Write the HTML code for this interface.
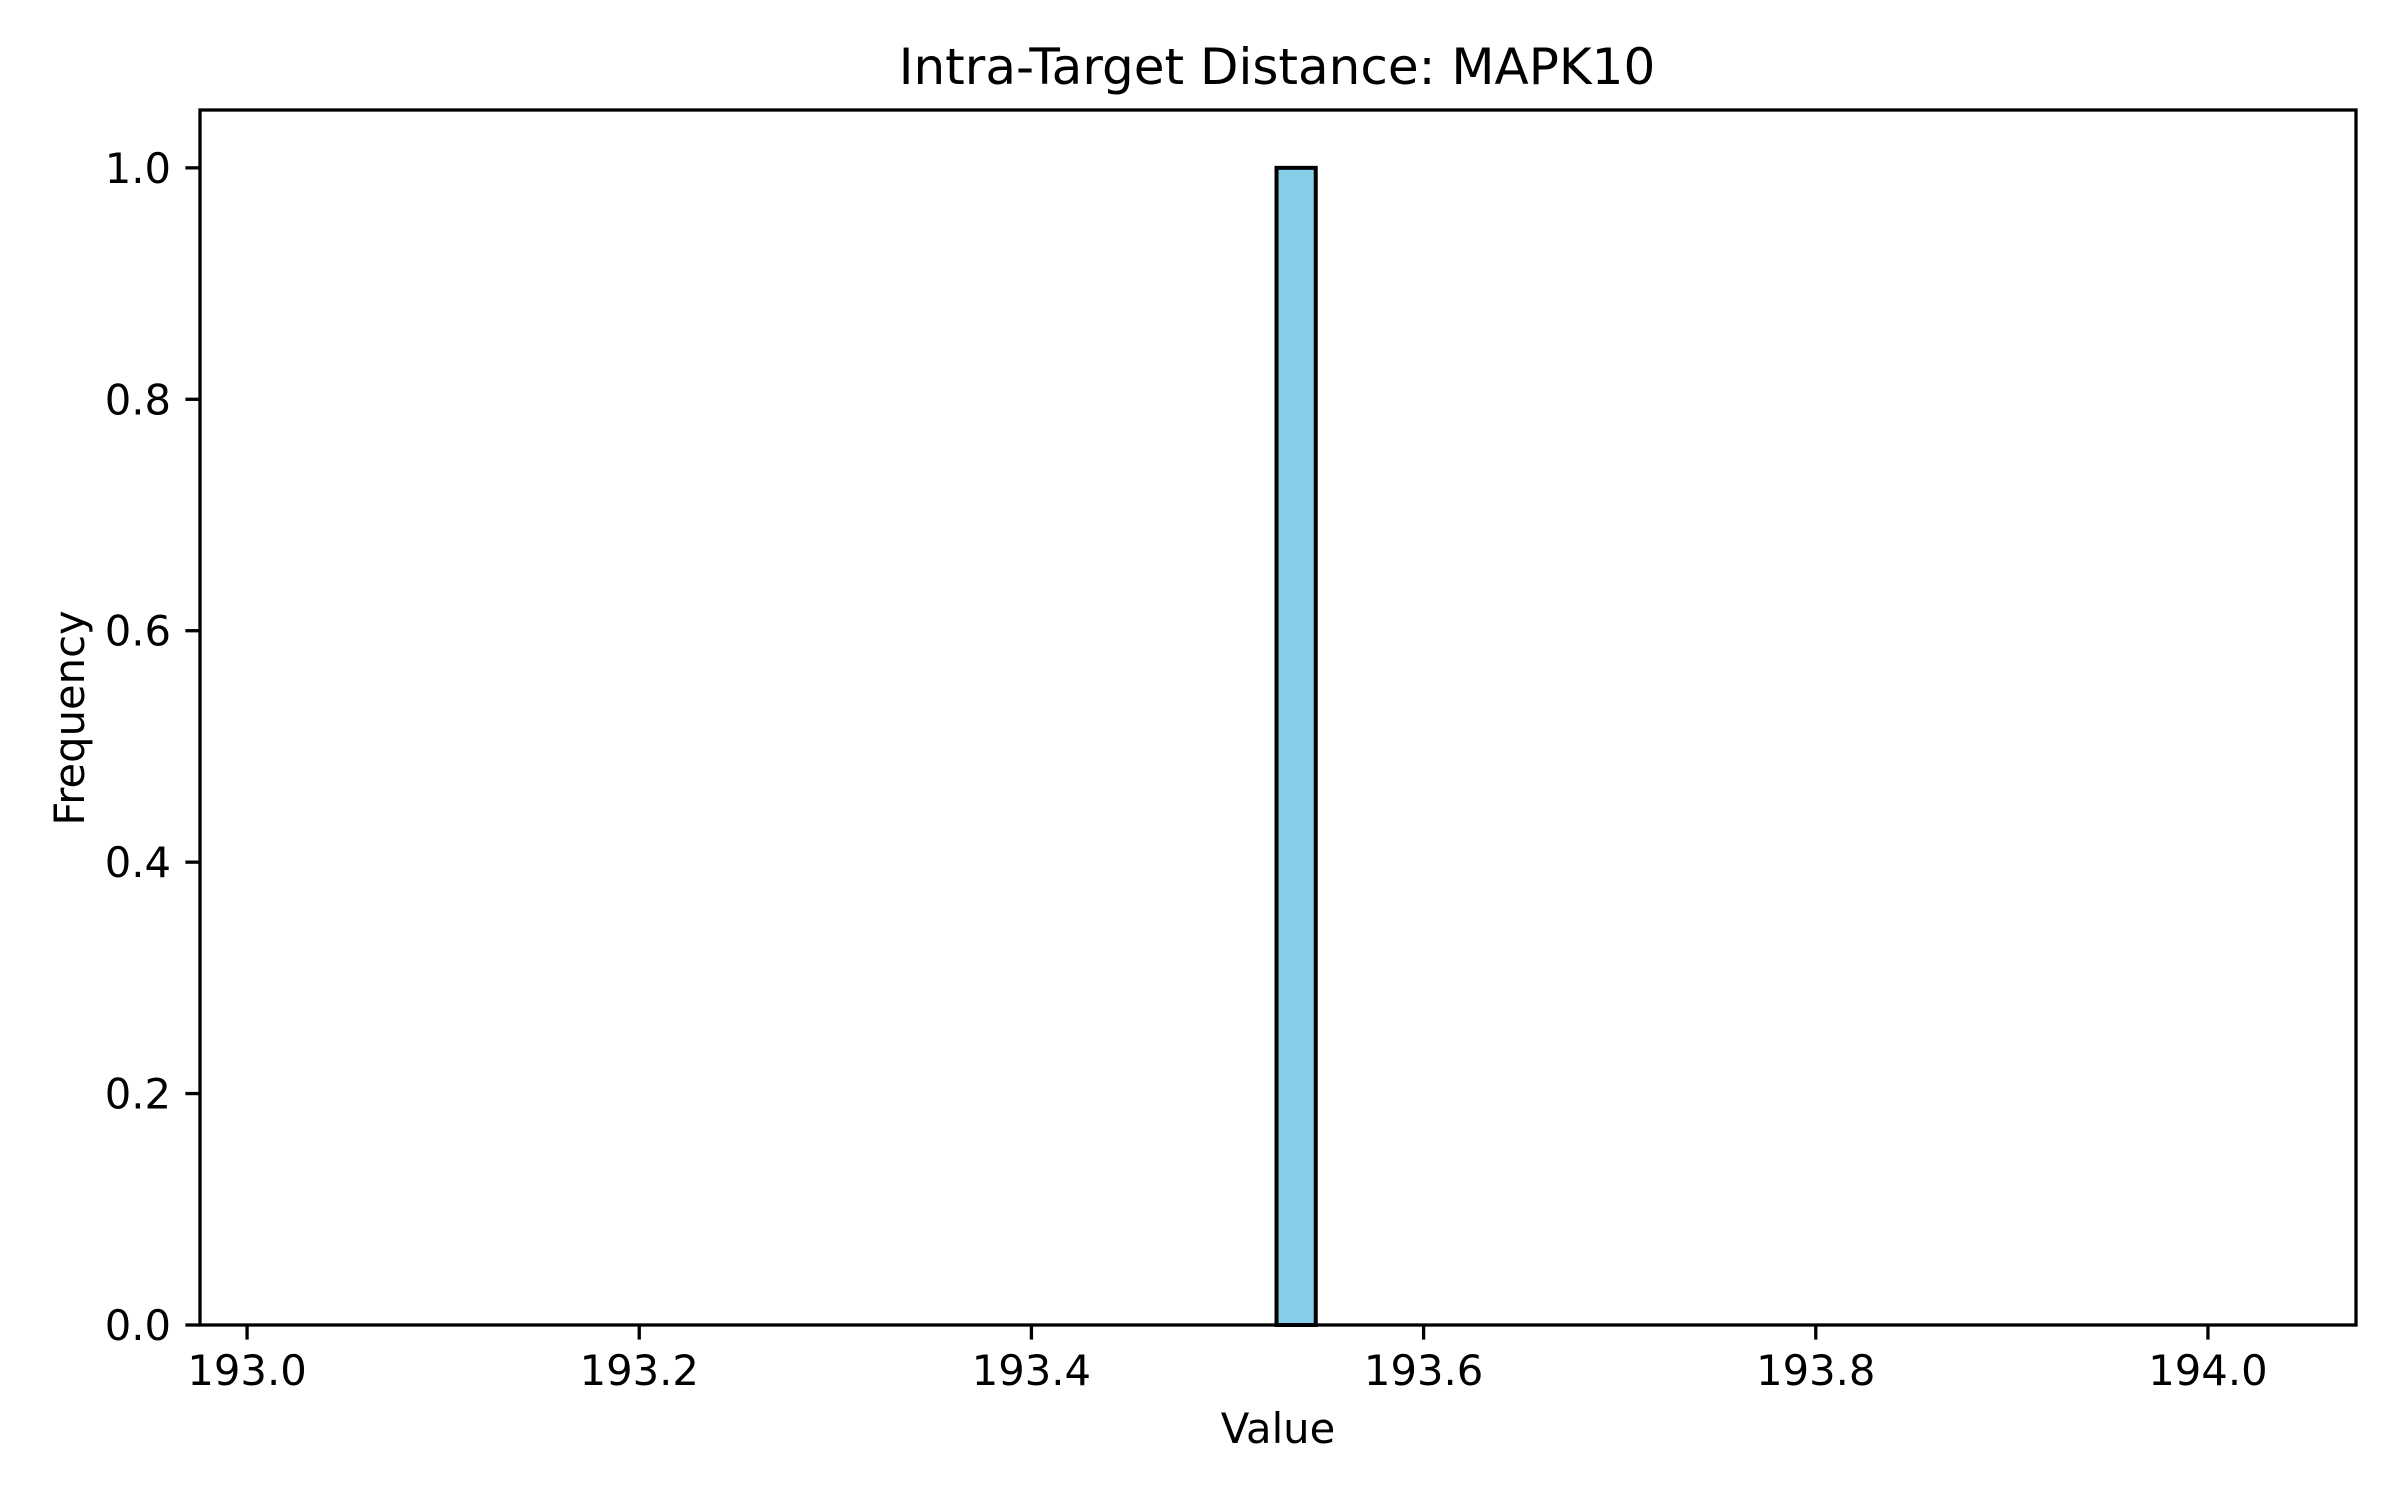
<!DOCTYPE html>
<html><head><meta charset="utf-8"><style>
html,body{margin:0;padding:0;background:#fff;}
svg{display:block;font-family:"DejaVu Sans","Liberation Sans",sans-serif;}
</style></head><body>
<svg id="chart" width="2400" height="1500" viewBox="0 0 2400 1500">
<rect width="2400" height="1500" fill="#fff"/>
<text x="1277" y="84" font-size="50" text-anchor="middle" fill="#000">Intra-Target Distance: MAPK10</text>
<g id="bars"></g>
<g id="xticks"></g>
<g id="yticks"></g>
<rect x="200" y="110" width="2156" height="1215" fill="none" stroke="#000" stroke-width="3.3"/>
<text x="1278" y="1443" font-size="41.7" text-anchor="middle" fill="#000">Value</text>
<text transform="translate(84,718) rotate(-90)" font-size="41.7" text-anchor="middle" fill="#000">Frequency</text>
</svg>
<script>
const binStart = 193.025;
const binWidth = 0.02;
const counts = [0,0,0,0,0,0,0,0,0,0,0,0,0,0,0,0,0,0,0,0,0,0,0,0,0,1,0,0,0,0,0,0,0,0,0,0,0,0,0,0,0,0,0,0,0,0,0,0,0,0];
const xTickValues = [193.0,193.2,193.4,193.6,193.8,194.0];
const xTickLabels = ["193.0","193.2","193.4","193.6","193.8","194.0"];
const yTickValues = [0,0.2,0.4,0.6,0.8,1.0];
const yTickLabels = ["0.0","0.2","0.4","0.6","0.8","1.0"];

const X0=200,X1=2356,Y0=1325,Y1=110;
const xMin=192.976,xMax=194.0755,yMin=0,yMax=1.05;
const NS="http://www.w3.org/2000/svg";
function xs(v){return X0+(v-xMin)/(xMax-xMin)*(X1-X0);}
function ys(v){return Y0-(v-yMin)/(yMax-yMin)*(Y0-Y1);}
function mk(tag,attrs,parent){const e=document.createElementNS(NS,tag);for(const k in attrs)e.setAttribute(k,attrs[k]);parent.appendChild(e);return e;}

const bars=document.getElementById('bars');
counts.forEach((c,i)=>{
  const a=xs(binStart+i*binWidth), b=xs(binStart+(i+1)*binWidth);
  const r=mk('rect',{x:a,y:ys(c),width:b-a,height:ys(0)-ys(c),fill:'#87ceeb',stroke:'#000','stroke-width':4},bars);
  
  
});
const xt=document.getElementById('xticks');
xTickValues.forEach((v,i)=>{
  const x=xs(v);
  const l=mk('line',{x1:x,x2:x,y1:Y0,y2:Y0+14.6,stroke:'#000','stroke-width':3.3},xt);
  
  
  const t=mk('text',{x:x,y:Y0+60,'font-size':41.7,'text-anchor':'middle',fill:'#000'},xt);
  t.textContent=xTickLabels[i];
  
  
});
const yt=document.getElementById('yticks');
yTickValues.forEach((v,i)=>{
  const y=ys(v);
  const l=mk('line',{x1:X0-14.6,x2:X0,y1:y,y2:y,stroke:'#000','stroke-width':3.3},yt);
  
  
  const t=mk('text',{x:X0-29,y:y+15,'font-size':41.7,'text-anchor':'end',fill:'#000'},yt);
  t.textContent=yTickLabels[i];
  
  
});
</script>
</body></html>
